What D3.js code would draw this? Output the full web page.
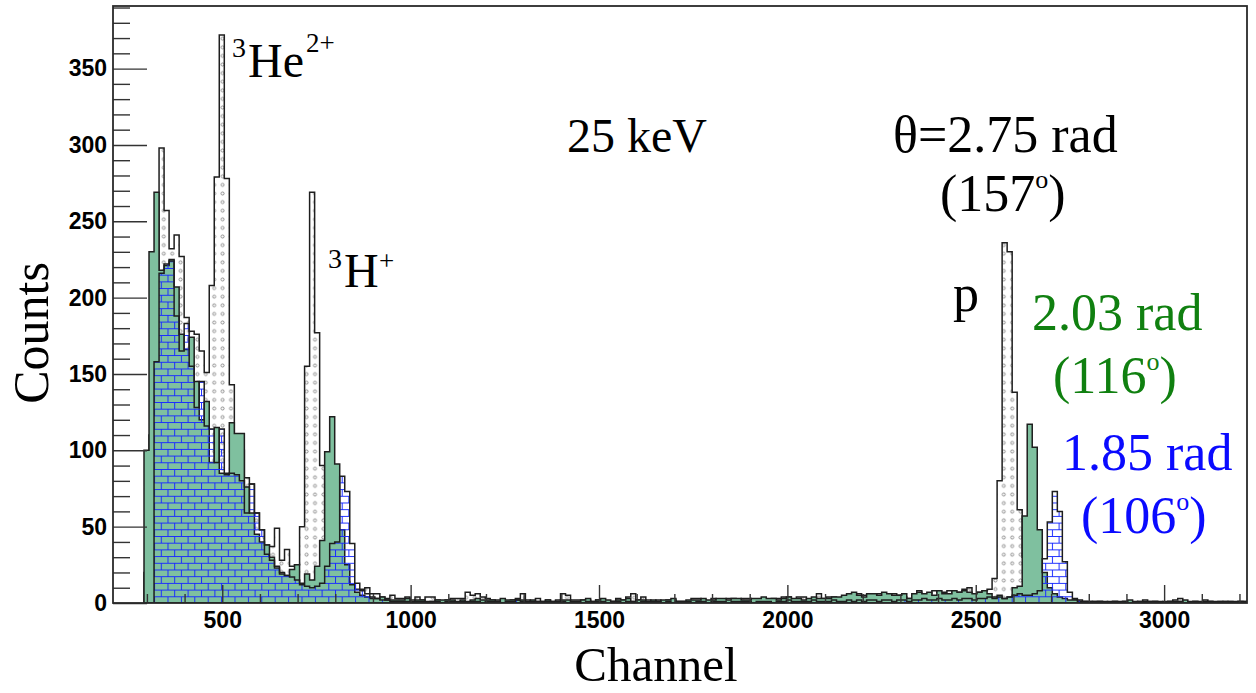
<!DOCTYPE html>
<html><head><meta charset="utf-8">
<script src="https://cdn.jsdelivr.net/npm/d3@7"></script>
<style>body{margin:0;background:#fff}svg{display:block}</style>
</head><body>
<svg id="c" width="1256" height="693"></svg>
<script>
// ---- data ----
const binStart = 292.3;   // channel of first bin edge
const binWidth = 13.32;   // channels per bin
// theta = 2.75 rad (157 deg), white dotted
const counts157 = [
20,110,200,298,257,232,241,227,187,178,
176,165,151,208,279,372,278,143,108,100,
82,78,59,48,38,37,49,28,35,24,
25,50,155,269,177,90,55,38,30,20,
14,9,9,9,10,6,6,4,3,5,
3,3,4,2,4,2,4,4,2,1,
2,3,3,3,7,5,6,4,3,2,
2,2,1,2,3,6,2,1,3,1,
2,1,2,6,5,2,2,2,2,1,
2,1,1,1,3,2,4,6,2,4,
2,1,2,1,2,2,1,1,1,3,
3,2,1,3,2,2,3,3,2,3,
3,2,2,3,2,3,3,4,4,2,
4,4,2,2,6,3,4,4,3,4,
3,4,6,5,5,5,6,6,5,6,
5,4,3,5,8,6,6,8,7,7,
8,6,7,9,10,6,7,8,9,16,
80,236,230,138,61,30,14,6,4,3,
2,1,2,1,1,2,1,1,0,1,
1,0,1,1,0,1,1,0,1,2,
1,1,0,1,1,2,3,1,0,1,
1,2,1,0,1,1,1,0,1,1];
// theta = 2.03 rad (116 deg), green
const counts116 = [
100,230,269,218,221,225,207,176,166,174,
145,120,132,92,115,85,85,118,111,111,
76,59,45,40,38,30,23,19,18,22,
25,13,19,15,24,41,99,122,91,48,
25,12,7,5,4,3,3,4,2,2,
2,2,3,1,2,2,1,1,2,2,
2,2,1,2,1,2,3,2,2,2,
1,3,2,2,2,2,1,2,1,1,
2,1,1,2,2,1,1,2,3,1,
2,3,2,1,2,2,3,1,2,2,
1,2,1,2,2,3,1,1,2,2,
2,3,2,2,3,3,2,3,3,2,
2,3,3,4,3,3,2,3,4,3,
3,2,3,4,3,3,3,4,4,5,
6,7,5,4,6,6,5,7,6,5,
5,6,3,6,7,6,7,5,8,6,
6,8,7,8,7,6,7,8,6,4,
5,3,4,10,11,57,117,102,48,20,
10,6,4,3,2,2,1,1,1,1,
1,1,0,1,1,1,2,1,0,1,
1,1,1,0,1,1,1,2,1,1,
0,1,1,1,1,0,1,1,1,1];
// theta = 1.85 rad (106 deg), blue bricks
const counts106 = [
0,0,158,216,222,224,188,165,183,155,
128,145,116,114,92,114,84,85,84,80,
59,78,59,48,32,28,24,20,18,17,
15,12,11,10,11,13,24,39,40,83,
73,39,13,8,6,4,3,2,2,1,
1,1,1,0,1,1,0,1,1,0,
1,1,0,1,0,1,1,0,1,1,
1,0,1,1,2,1,0,1,1,0,
1,0,1,1,0,1,1,0,1,0,
1,1,0,1,1,0,1,1,0,1,
0,1,1,0,1,0,1,1,1,0,
1,1,0,1,1,1,0,1,1,1,
1,0,1,1,1,0,1,1,2,1,
1,1,1,2,1,1,1,2,1,1,
2,1,2,1,2,2,1,2,2,1,
2,2,1,2,2,3,2,2,3,2,
2,3,2,3,3,2,3,3,4,3,
4,3,4,5,6,5,5,6,8,29,
53,73,60,27,7,3,2,1,1,0,
1,0,0,1,0,1,0,0,1,0,
0,1,0,0,1,0,1,0,0,1,
0,0,1,0,0,1,0,0,1,0];
const xMajor = [500,1000,1500,2000,2500,3000];
const xMinor = d3.range(300,3201,100).filter(v=>v%500!==0);
const yMajor = [0,50,100,150,200,250,300,350];
const yMinor = d3.range(0,391,10).filter(v=>v%50!==0);
const xDomain = [210,3220];
const yDomain = [0,391];

// ---- layout ----
const L=113,R=1247,T=6,B=603;
const svg=d3.select("#c");
const x=d3.scaleLinear(xDomain,[L,R]);
const y=d3.scaleLinear(yDomain,[B,T]);

const defs=svg.append("defs");
defs.append("clipPath").attr("id","plot").append("rect").attr("x",L).attr("y",T).attr("width",R-L).attr("height",B-T);
const dots=defs.append("pattern").attr("id","dots").attr("patternUnits","userSpaceOnUse").attr("width",8.4).attr("height",8.6);
dots.append("rect").attr("width",8.4).attr("height",8.6).attr("fill","#fff");
dots.append("circle").attr("cx",4.2).attr("cy",4.3).attr("r",1.5).attr("fill","none").attr("stroke","#808080").attr("stroke-width",0.9);
const bw=13.4,bh=6.7;
const bricks=defs.append("pattern").attr("id","bricks").attr("patternUnits","userSpaceOnUse").attr("width",bw).attr("height",bh*2).attr("patternTransform",`translate(0,${B})`);
bricks.append("path").attr("d",`M0,0.5H${bw}M0,${bh+0.5}H${bw}M0.5,0V${bh}M${bw/2+0.5},${bh}V${2*bh}`).attr("stroke","#1a2cff").attr("stroke-width",1).attr("fill","none");

function stepPath(vals){
  let d=`M${x(binStart)},${y(0)}`;
  vals.forEach((v,i)=>{
    const x0=x(binStart+i*binWidth), x1=x(binStart+(i+1)*binWidth);
    d+=`L${x0},${y(v)}L${x1},${y(v)}`;
  });
  d+=`L${x(binStart+vals.length*binWidth)},${y(0)}Z`;
  return d;
}
const g=svg.append("g").attr("clip-path","url(#plot)");
const series=[
  {vals:counts157, fill:"url(#dots)"},
  {vals:counts116, fill:"#7fc09f"},
  {vals:counts106, fill:"url(#bricks)"}
];
g.selectAll("path.h").data(series).join("path").attr("class","h")
  .attr("d",d=>stepPath(d.vals)).attr("fill",d=>d.fill)
  .attr("stroke","#1e1e1e").attr("stroke-width",1.5).attr("stroke-linejoin","miter");

// ---- axes ----
const tickCol="#333";
const ax=svg.append("g").attr("transform",`translate(0,${B})`);
ax.call(d3.axisBottom(x).tickValues(xMajor).tickSize(-18).tickPadding(9).tickFormat(d3.format("d")));
ax.append("g").call(d3.axisBottom(x).tickValues(xMinor).tickSize(-9).tickFormat(""));
const ay=svg.append("g").attr("transform",`translate(${L},0)`);
ay.call(d3.axisLeft(y).tickValues(yMajor).tickSize(-34).tickPadding(6).tickFormat(d3.format("d")));
ay.append("g").call(d3.axisLeft(y).tickValues(yMinor).tickSize(-17).tickFormat(""));
svg.selectAll(".domain").remove();
svg.selectAll(".tick line").attr("stroke",tickCol).attr("stroke-width",1.4);
svg.selectAll(".tick text").attr("font-family","'Liberation Sans',Arial,sans-serif").attr("font-weight","bold").attr("font-size",23).attr("fill","#000");
svg.append("rect").attr("x",L).attr("y",T).attr("width",R-L).attr("height",B-T).attr("fill","none").attr("stroke","#2a2a2a").attr("stroke-width",1.8);

// ---- titles ----
const serif="'Liberation Serif','Times New Roman',serif";
svg.append("text").attr("x",656).attr("y",681).attr("text-anchor","middle").attr("font-family",serif).attr("font-size",49).text("Channel");
svg.append("text").attr("transform","translate(48,333) rotate(-90)").attr("text-anchor","middle").attr("font-family",serif).attr("font-size",50).text("Counts");

// ---- annotations ----
function label(xp,yp,parts,color,size){
  const t=svg.append("text").attr("x",xp).attr("y",yp).attr("font-family",serif).attr("font-size",size).attr("fill",color);
  parts.forEach(p=>{
    const s=t.append("tspan").text(p.t);
    if(p.sup){s.attr("font-size",p.fs||size*0.5).attr("dy",p.dy);}
    else if(p.dy){s.attr("dy",p.dy);}
  });
  return t;
}
label(567,152,[{t:"25 keV"}],"#000",48);
label(893,152,[{t:"θ=2.75 rad"}],"#000",52);
label(940,211,[{t:"(157"},{t:"o",sup:true,fs:26,dy:-23},{t:")",dy:23}],"#000",52);
label(953,311,[{t:"p"}],"#000",52);
label(1032,330,[{t:"2.03 rad"}],"#108010",52);
label(1053,393,[{t:"(116"},{t:"o",sup:true,fs:26,dy:-23},{t:")",dy:23}],"#108010",52);
label(1062,470,[{t:"1.85 rad"}],"#0a0aff",52);
label(1081,533,[{t:"(106"},{t:"o",sup:true,fs:26,dy:-23},{t:")",dy:23}],"#0a0aff",52);
// 3He2+
svg.append("text").attr("x",232).attr("y",57).attr("font-family",serif).attr("font-size",28).text("3");
svg.append("text").attr("x",248).attr("y",77).attr("font-family",serif).attr("font-size",48).text("He");
svg.append("text").attr("x",306).attr("y",52).attr("font-family",serif).attr("font-size",27).text("2+");
// 3H+
svg.append("text").attr("x",328).attr("y",268).attr("font-family",serif).attr("font-size",28).text("3");
svg.append("text").attr("x",344).attr("y",287).attr("font-family",serif).attr("font-size",48).text("H");
svg.append("text").attr("x",379).attr("y",270).attr("font-family",serif).attr("font-size",27).text("+");
</script>
</body></html>
